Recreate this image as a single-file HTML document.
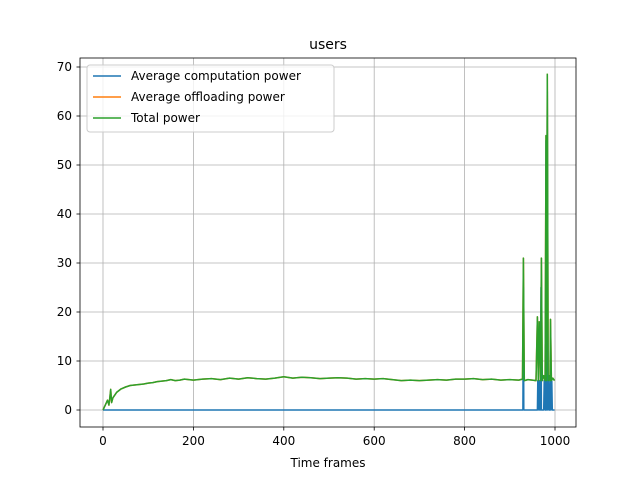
<!DOCTYPE html>
<html><head><meta charset="utf-8"><style>
body{margin:0;background:#fff;font-family:"Liberation Sans","DejaVu Sans",sans-serif}
</style></head><body>
<svg id="chart" width="640" height="480" xmlns="http://www.w3.org/2000/svg" font-family="DejaVu Sans, Liberation Sans, sans-serif">
<rect width="640" height="480" fill="#fff"/>
<g id="grid"></g>
<g id="series"></g>
<rect x="80" y="58" width="496" height="369" fill="none" stroke="#000" stroke-width="0.8"/>
<g id="ticks" font-size="12"></g>
<text x="328" y="49" text-anchor="middle" font-size="14">users</text>
<text x="328" y="467" text-anchor="middle" font-size="12">Time frames</text>
<g>
<rect x="87" y="65" width="247" height="67" rx="3" fill="#fff" fill-opacity="0.8" stroke="#ccc"/>
<line x1="93" y1="76" x2="121" y2="76" stroke="#1f77b4" stroke-width="1.5"/>
<text x="131" y="80" font-size="12">Average computation power</text>
<line x1="93" y1="97" x2="121" y2="97" stroke="#ff7f0e" stroke-width="1.5"/>
<text x="131" y="101" font-size="12">Average offloading power</text>
<line x1="93" y1="118" x2="121" y2="118" stroke="#2ca02c" stroke-width="1.5"/>
<text x="131" y="122" font-size="12">Total power</text>
</g>
</svg>
<script>
const xTicks=[0,200,400,600,800,1000];
const yTicks=[0,10,20,30,40,50,60,70];
const totalFrames=[0,5,10,13,15,17,19,22,30,40,50,60,70,80,90,100,110,120,130,140,150,160,170,180,190,200,220,240,260,280,300,320,340,360,380,400,420,440,460,480,500,520,540,560,580,600,620,640,660,680,700,720,740,760,780,800,820,840,860,880,900,920,928,930,932,940,950,958,961,963,965,968,970,972,975,978,980,981,983,985,987,989,990,992,995,999];
const totalValues=[0,1,2,1,2.5,4.2,1.5,2.5,3.6,4.3,4.7,5,5.1,5.2,5.3,5.5,5.6,5.8,5.9,6,6.2,6,6.1,6.3,6.2,6.1,6.3,6.4,6.2,6.5,6.3,6.6,6.4,6.3,6.5,6.8,6.5,6.7,6.6,6.4,6.5,6.6,6.5,6.3,6.4,6.3,6.4,6.2,6.0,6.1,6.0,6.1,6.2,6.1,6.3,6.3,6.4,6.2,6.3,6.1,6.2,6.1,6.3,31,6.0,6.2,6.1,6.0,19,6,18,6,31,6,7,6,56,6,68.5,6,7,6,18.5,6,6.5,6];
const compFrames=[0,928,929,930,931,932,960,961,962,963,965,966,968,969,970,971,975,976,978,979,980,981,983,984,986,987,989,990,991,993,994,996,999];
const compValues=[0,0,0,25,0,0,0,0,6,0,6,0,0,25,0,0,0,6,0,0,55,0,65,0,6,0,0,10,0,6,0,0,0];
const X=v=>103+v*0.452, Y=v=>410-v*4.9;
const NS="http://www.w3.org/2000/svg";
function mk(p,t,a){const e=document.createElementNS(NS,t);for(const k in a)e.setAttribute(k,a[k]);document.getElementById(p).appendChild(e);return e;}
xTicks.forEach(t=>{
 const g=mk('grid','line',{x1:X(t),x2:X(t),y1:58,y2:427,stroke:'#b0b0b0','stroke-width':0.8});
 
 
 mk('ticks','line',{x1:X(t),x2:X(t),y1:427,y2:430.5,stroke:'#000','stroke-width':0.8});
 const l=mk('ticks','text',{x:X(t),y:445,'text-anchor':'middle'});l.textContent=t;
 
 
});
yTicks.forEach(t=>{
 const g=mk('grid','line',{x1:80,x2:576,y1:Y(t),y2:Y(t),stroke:'#b0b0b0','stroke-width':0.8});
 
 
 mk('ticks','line',{x1:76.5,x2:80,y1:Y(t),y2:Y(t),stroke:'#000','stroke-width':0.8});
 const l=mk('ticks','text',{x:72,y:Y(t)+4,'text-anchor':'end'});l.textContent=t;
 
 
});
function line(fr,vals,color,name){
 const d=fr.map((f,i)=>(i?'L':'M')+X(f).toFixed(1)+','+Y(vals[i]).toFixed(1)).join('');
 const p=mk('series','path',{d:d,fill:'none',stroke:color,'stroke-width':1.5,'stroke-linejoin':'round'});
 
 
}
line(totalFrames,totalValues,'#ff7f0e','offloading-power-line');
line(compFrames,compValues,'#1f77b4','computation-power-line');
line(totalFrames,totalValues,'#2ca02c','total-power-line');
</script>
</body></html>
